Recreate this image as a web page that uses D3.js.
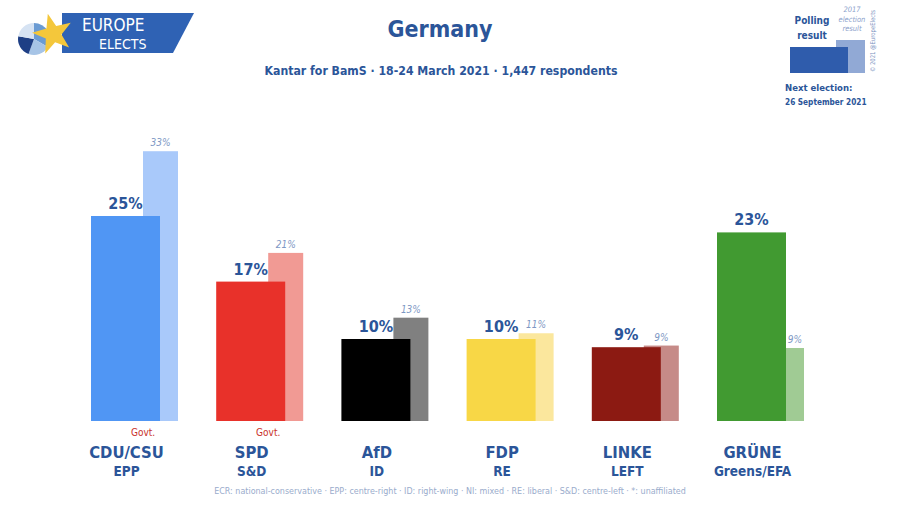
<!DOCTYPE html>
<html>
<head>
<meta charset="utf-8">
<script src="https://cdn.jsdelivr.net/npm/d3@7"></script>
<style>
  body { margin: 0; background: #fff; }
  text { font-family: "DejaVu Sans Condensed", "DejaVu Sans", sans-serif; }
</style>
</head>
<body>
<svg id="chart" width="900" height="507"></svg>
<script>
const parties = ["CDU/CSU", "SPD", "AfD", "FDP", "LINKE", "GRÜNE"];
const groups = ["EPP", "S&D", "ID", "RE", "LEFT", "Greens/EFA"];
const poll = [25, 17, 10, 10, 9, 23];
const election2017 = [32.9, 20.5, 12.6, 10.7, 9.2, 8.9];
const govt = ["CDU/CSU", "SPD"];
const mainColors = ["#5096f4", "#e8312a", "#000000", "#f8d746", "#8c1a12", "#419a31"];
const prevColors = ["#a9c9fa", "#f19a94", "#808080", "#fbe79d", "#c68b88", "#a0cb94"];

const blue = "#2b5599";
const svg = d3.select("#chart");

const x = d3.scaleBand().domain(parties).range([91, 91 + 6 * 125.2]).padding(0);
const y = d3.scaleLinear().domain([0, 33]).range([421, 421 - 33 * 8.2]);
const mainW = 69, prevOff = 52, prevW = 35;

const data = parties.map((p, i) => ({
    party: p, group: groups[i], poll: poll[i], prev: election2017[i],
    main: mainColors[i], light: prevColors[i]
}));

// previous election bars (behind)
svg.selectAll("rect.prev").data(data).enter().append("rect")
    .attr("class", "prev")
    .attr("x", d => x(d.party) + prevOff)
    .attr("width", prevW)
    .attr("y", d => y(d.prev))
    .attr("height", d => y(0) - y(d.prev))
    .attr("fill", d => d.light);

svg.selectAll("rect.main").data(data).enter().append("rect")
    .attr("class", "main")
    .attr("x", d => x(d.party))
    .attr("width", mainW)
    .attr("y", d => y(d.poll))
    .attr("height", d => y(0) - y(d.poll))
    .attr("fill", d => d.main);

svg.selectAll("text.pval").data(data).enter().append("text")
    .attr("x", d => x(d.party) + mainW / 2)
    .attr("y", d => y(d.poll) - 7)
    .attr("text-anchor", "middle")
    .attr("font-size", 16).attr("font-weight", "bold")
    .attr("fill", blue)
    .text(d => d.poll + "%");

// label sits over the visible part of the light bar
svg.selectAll("text.prevval").data(data).enter().append("text")
    .attr("x", d => d.prev < d.poll
        ? x(d.party) + (mainW + prevOff + prevW) / 2
        : x(d.party) + prevOff + prevW / 2)
    .attr("y", d => y(d.prev) - 5)
    .attr("text-anchor", "middle")
    .attr("font-size", 10).attr("font-style", "italic")
    .attr("fill", "#7d97c4")
    .text(d => Math.round(d.prev) + "%");

svg.selectAll("text.govt").data(data.filter(d => govt.includes(d.party))).enter().append("text")
    .attr("x", d => x(d.party) + 52)
    .attr("y", 436)
    .attr("text-anchor", "middle")
    .attr("font-size", 10)
    .attr("fill", "#c8312b")
    .text("Govt.");

svg.selectAll("text.party").data(data).enter().append("text")
    .attr("x", d => x(d.party) + mainW / 2 + 1)
    .attr("y", 458)
    .attr("text-anchor", "middle")
    .attr("font-size", 16.5).attr("font-weight", "bold")
    .attr("fill", blue)
    .text(d => d.party);

svg.selectAll("text.group").data(data).enter().append("text")
    .attr("x", d => x(d.party) + mainW / 2 + 1)
    .attr("y", 476)
    .attr("text-anchor", "middle")
    .attr("font-size", 13.5).attr("font-weight", "bold")
    .attr("fill", blue)
    .text(d => d.group);

svg.append("text")
    .attr("x", 450).attr("y", 494)
    .attr("text-anchor", "middle")
    .attr("font-size", 8.9)
    .attr("fill", "#9aaccc")
    .text("ECR: national-conservative · EPP: centre-right · ID: right-wing · NI: mixed · RE: liberal · S&D: centre-left · *: unaffiliated");

// title
svg.append("text")
    .attr("x", 440).attr("y", 37)
    .attr("text-anchor", "middle")
    .attr("font-size", 23).attr("font-weight", "bold")
    .attr("fill", blue)
    .text("Germany");

svg.append("text")
    .attr("x", 441).attr("y", 75)
    .attr("text-anchor", "middle")
    .attr("font-size", 12.2).attr("font-weight", "bold")
    .attr("fill", blue)
    .text("Kantar for BamS · 18-24 March 2021 · 1,447 respondents");

// logo
const logo = svg.append("g");
logo.append("path")
    .attr("d", "M62,13 L194,13 L173,53 L62,53 Z")
    .attr("fill", "#2f62b4");
const pie = d3.pie().sort(null)([3, 2, 2, 2]);
const arc = d3.arc().innerRadius(0).outerRadius(16);
const pieCols = ["#6a9bd3", "#a6c4e6", "#1e3f85", "#d6e3f3"];
logo.append("g").attr("transform", "translate(34,39)")
    .selectAll("path").data(pie).enter().append("path")
    .attr("d", arc).attr("fill", (d, i) => pieCols[i]);
const star = d3.range(10).map(i => {
    const r = i % 2 === 0 ? 21 : 8.5;
    const a = -Math.PI / 2 + i * Math.PI / 5 - 0.25;
    return [53 + r * Math.cos(a), 34 + r * Math.sin(a)];
});
logo.append("path").attr("d", "M" + star.join("L") + "Z").attr("fill", "#f4c73b");
logo.append("text").attr("x", 82).attr("y", 31)
    .attr("font-size", 17).attr("fill", "#fff").text("EUROPE");
logo.append("text").attr("x", 99).attr("y", 49)
    .attr("font-size", 14).attr("fill", "#fff").text("ELECTS");

// legend
const lg = svg.append("g");
lg.append("rect").attr("x", 836).attr("y", 40).attr("width", 29).attr("height", 33).attr("fill", "#91a9d5");
lg.append("rect").attr("x", 790).attr("y", 47).attr("width", 58).attr("height", 26).attr("fill", "#2f5cac");
lg.append("text").attr("x", 812).attr("y", 24).attr("text-anchor", "middle")
    .attr("font-size", 10).attr("font-weight", "bold").attr("fill", blue).text("Polling");
lg.append("text").attr("x", 812).attr("y", 39).attr("text-anchor", "middle")
    .attr("font-size", 10).attr("font-weight", "bold").attr("fill", blue).text("result");
["2017", "election", "result"].forEach((t, i) => {
    lg.append("text").attr("x", 852).attr("y", 12 + i * 9.5).attr("text-anchor", "middle")
        .attr("font-size", 7.5).attr("font-style", "italic").attr("fill", "#8ca2cc").text(t);
});
lg.append("text").attr("transform", "translate(875,72) rotate(-90)")
    .attr("font-size", 6.5).attr("textLength", 62).attr("lengthAdjust", "spacingAndGlyphs")
    .attr("fill", "#7d94c2").text("© 2021 @EuropeElects");
lg.append("text").attr("x", 785).attr("y", 91)
    .attr("font-size", 9.5).attr("font-weight", "bold").attr("fill", blue).text("Next election:");
lg.append("text").attr("x", 785).attr("y", 105)
    .attr("font-size", 8.2).attr("font-weight", "bold").attr("fill", blue).text("26 September 2021");
</script>
</body>
</html>
